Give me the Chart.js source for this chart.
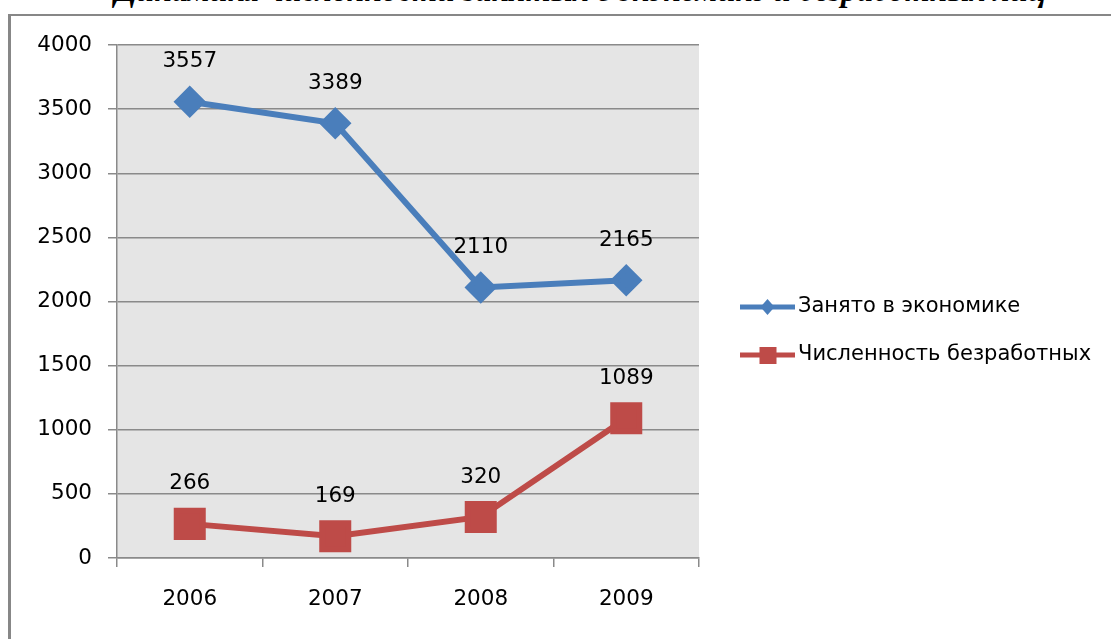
<!DOCTYPE html>
<html>
<head>
<meta charset="utf-8">
<script src="https://cdn.jsdelivr.net/npm/chart.js@4/dist/chart.umd.min.js"></script>
<style>
  html, body { margin: 0; padding: 0; background: #fff; overflow: hidden; }
  #wrap { position: relative; width: 1111px; height: 639px; }
  #frame { position: absolute; left: 8px; top: 14px; width: 1200px; height: 700px;
           border-left: 3px solid #878787; border-top: 2px solid #878787; }
  #title { position: absolute; left: 0; width: 1160px; top: -28px; text-align: center;
           font: italic bold 32px 'Liberation Serif', 'Times New Roman', serif; color: #000;
           white-space: nowrap; }
  canvas { position: absolute; left: 0; top: 0; }
</style>
</head>
<body>
<div id="wrap">
  <div id="title">Динамика численности занятых в экономике и безработных лиц</div>
  <div id="frame"></div>
  <canvas id="chart" width="1111" height="639"></canvas>
</div>
<script>
/* ── Занятость и безработица, 2006–2009 ── */

const years = ['2006', '2007', '2008', '2009'];
const employed = [3557, 3389, 2110, 2165];
const unemployed = [266, 169, 320, 1089];
const seriesNames = ['Занято в экономике', 'Численность безработных'];
const yTicks = [0, 500, 1000, 1500, 2000, 2500, 3000, 3500, 4000];

const COLORS = {
  blue: '#4a7ebb',
  red:  '#be4b48',
  plot: '#e5e5e5',
  grid: '#8a8a8a',
  text: '#000000',
};

const FONT = "'DejaVu Sans', sans-serif";

// plot background
const plotBg = {
  id: 'plotBg',
  beforeDraw(chart) {
    const { ctx, chartArea: a } = chart;
    ctx.save();
    ctx.fillStyle = COLORS.plot;
    ctx.fillRect(a.left, a.top, a.right - a.left, a.bottom - a.top);
    ctx.restore();
  }
};

// value labels above points
const valueLabels = {
  id: 'valueLabels',
  afterDatasetsDraw(chart) {
    const ctx = chart.ctx;
    ctx.save();
    ctx.font = '21.5px ' + FONT;
    ctx.fillStyle = COLORS.text;
    ctx.textAlign = 'center';
    ctx.textBaseline = 'middle';
    chart.data.datasets.forEach((ds, i) => {
      chart.getDatasetMeta(i).data.forEach((pt, j) => {
        ctx.fillText(String(ds.data[j]), pt.x, pt.y - 40);
      });
    });
    ctx.restore();
  }
};

// legend on the right, line + marker like the original
const sideLegend = {
  id: 'sideLegend',
  afterDraw(chart) {
    const ctx = chart.ctx;
    const x0 = 740, x1 = 795, rows = [307, 355];
    ctx.save();
    chart.data.datasets.forEach((ds, i) => {
      const y = rows[i];
      ctx.strokeStyle = ds.borderColor;
      ctx.lineWidth = 5;
      ctx.beginPath();
      ctx.moveTo(x0, y);
      ctx.lineTo(x1, y);
      ctx.stroke();
      ctx.fillStyle = ds.borderColor;
      const mx = (x0 + x1) / 2;
      if (ds.pointStyle === 'rectRot') {
        ctx.beginPath();
        ctx.moveTo(mx, y - 8);
        ctx.lineTo(mx + 7, y);
        ctx.lineTo(mx, y + 8);
        ctx.lineTo(mx - 7, y);
        ctx.closePath();
        ctx.fill();
      } else {
        ctx.fillRect(mx - 8, y - 8, 17, 17);
      }
      ctx.font = '21px ' + FONT;
      ctx.fillStyle = COLORS.text;
      ctx.textAlign = 'left';
      ctx.textBaseline = 'middle';
      ctx.fillText(ds.label, 798, y);
    });
    ctx.restore();
  }
};

new Chart(document.getElementById('chart'), {
  type: 'line',
  data: {
    labels: years,
    datasets: [
      {
        label: seriesNames[0],
        data: employed,
        borderColor: COLORS.blue,
        backgroundColor: COLORS.blue,
        borderWidth: 6,
        pointStyle: 'rectRot',
        pointRadius: 12,
        pointHoverRadius: 12,
        tension: 0,
      },
      {
        label: seriesNames[1],
        data: unemployed,
        borderColor: COLORS.red,
        backgroundColor: COLORS.red,
        borderWidth: 6,
        pointStyle: 'rect',
        pointRadius: 18.4,
        pointHoverRadius: 18.4,
        tension: 0,
      }
    ]
  },
  options: {
    responsive: false,
    animation: false,
    events: [],
    layout: { padding: { top: 45, right: 412, bottom: 0, left: 0 } },
    plugins: {
      legend: { display: false },
      tooltip: { enabled: false },
    },
    scales: {
      x: {
        offset: true,
        afterFit: s => { s.height = 81; },
        grid: { drawOnChartArea: false, offset: true, tickLength: 9, color: COLORS.grid, lineWidth: 1.5 },
        border: { color: COLORS.grid, width: 1.5 },
        ticks: { color: COLORS.text, font: { family: FONT, size: 21.5 }, padding: 20 },
      },
      y: {
        min: 0,
        max: 4000,
        afterFit: s => { s.width = 117; },
        afterBuildTicks: s => { s.ticks = yTicks.map(v => ({ value: v })); },
        grid: { color: COLORS.grid, tickLength: 9, lineWidth: 1.5 },
        border: { color: COLORS.grid, width: 1.5 },
        ticks: {
          color: COLORS.text,
          font: { family: FONT, size: 21.5 },
          padding: 16,
          callback: v => String(v),
        },
      }
    }
  },
  plugins: [plotBg, valueLabels, sideLegend]
});
</script>
</body>
</html>
